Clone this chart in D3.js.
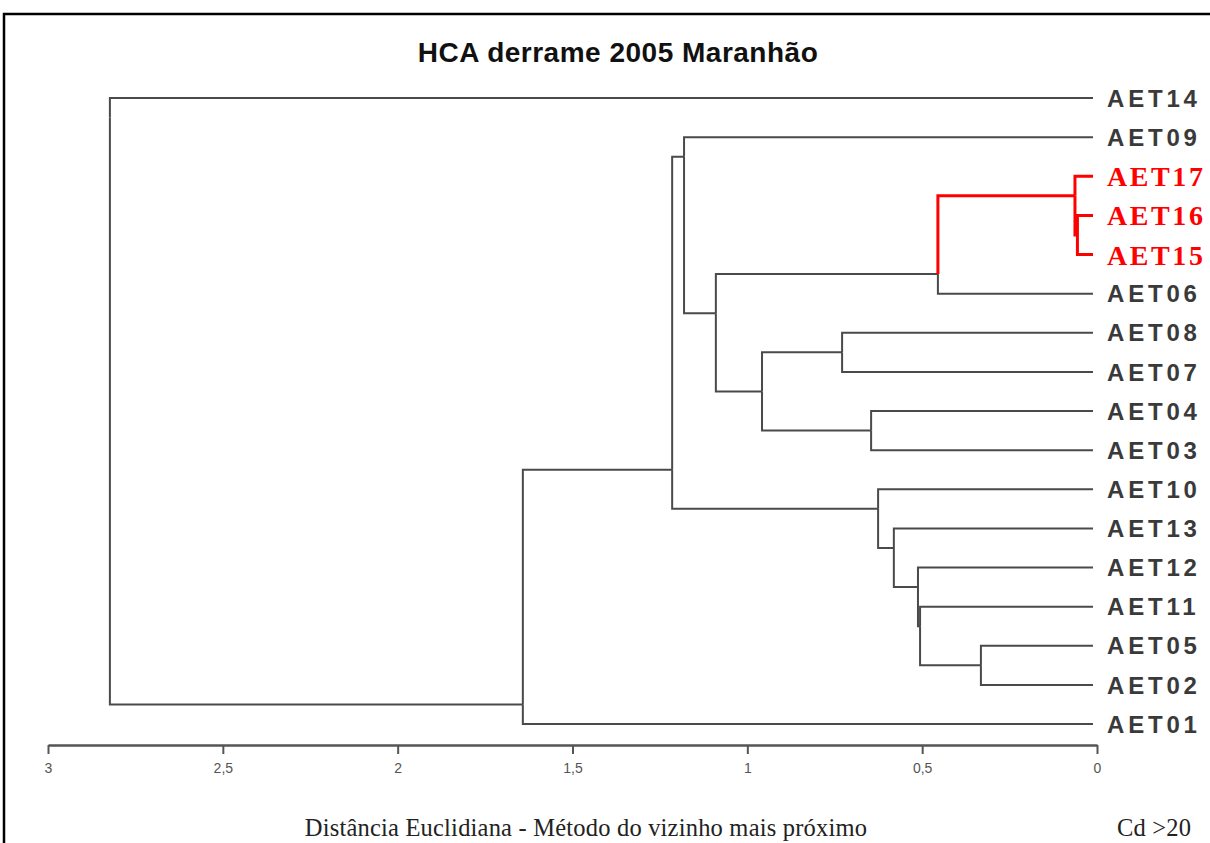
<!DOCTYPE html>
<html><head><meta charset="utf-8">
<script src="https://cdn.jsdelivr.net/npm/d3@7"></script>
<style>html,body{margin:0;background:#fff;overflow:hidden} svg{display:block}</style>
</head><body>
<svg id="c" width="1210" height="843"></svg>
<script>
const titleText = "HCA derrame 2005 Maranhão";
const leafOrder = ["AET14","AET09","AET17","AET16","AET15","AET06","AET08","AET07","AET04","AET03","AET10","AET13","AET12","AET11","AET05","AET02","AET01"];
const highlighted = ["AET17","AET16","AET15"];
const mergeIds    = ["m1","m2","m3","m4","m5","m6","m7","m8","m9","m10","m11","m12","m13","m14","m15","m16"];
const mergeLeft   = ["AET16","AET17","m2","AET08","AET04","m4","m3","AET09","AET05","AET11","AET12","AET13","AET10","m8","m14","AET14"];
const mergeRight  = ["AET15","m1","AET06","AET07","AET03","m5","m6","m7","AET02","m9","m10","m11","m12","m13","AET01","m15"];
const mergeHeight = [0.056,0.063,0.455,0.729,0.646,0.958,1.090,1.181,0.332,0.506,0.512,0.581,0.626,1.215,1.642,2.823];
const tickValues = [3,2.5,2,1.5,1,0.5,0];
const tickLabels = ["3","2,5","2","1,5","1","0,5","0"];
const xAxisTitle = "Distância Euclidiana - Método do vizinho mais próximo";
const cutNote = "Cd >20";

const svg = d3.select("#c");
const W = 1210, H = 843;
svg.append("rect").attr("width",W).attr("height",H).attr("fill","#fff");
// frame (right and bottom edges lie outside the picture)
svg.append("path").attr("d","M4,860V14H1230")
  .attr("fill","none").attr("stroke","#000").attr("stroke-width",2.5);

const x = d3.scaleLinear().domain([3,0]).range([48,1097]);
const y = d3.scalePoint().domain(leafOrder).range([98,724]);

// build tree
const nodes = new Map();
leafOrder.forEach(id => nodes.set(id,{id, leaf:true, height:0, leaves:[id]}));
mergeIds.forEach((id,i) => {
  const L = nodes.get(mergeLeft[i]), R = nodes.get(mergeRight[i]);
  const n = {id, leaf:false, height:mergeHeight[i], left:L, right:R, leaves:L.leaves.concat(R.leaves)};
  L.parent = n; R.parent = n;
  nodes.set(id,n);
});
nodes.forEach(n => {
  if (n.leaf) n.y = y(n.id);
  else n.y = (y(n.left.leaves[n.left.leaves.length-1]) + y(n.right.leaves[0]))/2;
});
const hl = new Set(highlighted);
const isRed = n => n.leaves.every(l => hl.has(l));

const links = [...nodes.values()].filter(n => n.parent);
const pathOf = n => {
  const x0 = n.leaf ? x(0) - 4 : x(n.height);
  return `M${x0},${n.y}H${x(n.parent.height)}V${n.parent.y}`;
};
svg.append("g").selectAll("path").data(links.filter(n=>!isRed(n))).join("path")
  .attr("d",pathOf).attr("fill","none").attr("stroke","#4a4a4a").attr("stroke-width",2);
svg.append("g").selectAll("path").data(links.filter(n=>isRed(n))).join("path")
  .attr("d",pathOf).attr("fill","none").attr("stroke","#ff0000").attr("stroke-width",3);

// labels
svg.append("g").selectAll("text").data(leafOrder).join("text")
  .attr("x",1107).attr("y",d=>y(d))
  .attr("dy","0.36em")
  .attr("font-family", d => hl.has(d) ? "Liberation Serif, serif" : "Liberation Sans, Arial, sans-serif")
  .attr("font-weight","bold")
  .attr("font-size", d => hl.has(d) ? 28 : 24)
  .attr("letter-spacing", d => hl.has(d) ? 2.6 : 3.8)
  .attr("fill", d => hl.has(d) ? "#ff0000" : "#3a3a3a")
  .text(d=>d);

// title
svg.append("text").attr("x",618).attr("y",62).attr("text-anchor","middle")
  .attr("font-family","Liberation Sans, Arial, sans-serif").attr("font-weight","bold")
  .attr("font-size",28).attr("letter-spacing",0.5).attr("fill","#111").text(titleText);

// axis
const axis = d3.axisBottom(x).tickValues(tickValues)
  .tickFormat((d,i)=>tickLabels[i]).tickSize(9).tickSizeOuter(0);
const ag = svg.append("g").attr("transform","translate(0,745)").call(axis);
ag.attr("font-size",14).attr("font-family","Liberation Sans, Arial, sans-serif");
ag.select(".domain").attr("stroke","#555").attr("stroke-width",2.5);
ag.selectAll(".tick line").attr("stroke","#555").attr("stroke-width",2);
ag.selectAll(".tick text").attr("fill","#555").attr("y",18).attr("dy","0.71em");

svg.append("text").attr("x",586).attr("y",836).attr("text-anchor","middle")
  .attr("font-family","Liberation Serif, serif").attr("font-size",24.5).attr("letter-spacing",0.2).attr("fill","#222")
  .text(xAxisTitle);
svg.append("text").attr("x",1117).attr("y",836)
  .attr("font-family","Liberation Serif, serif").attr("font-size",24.5).attr("letter-spacing",0.2).attr("fill","#222")
  .text(cutNote);
</script>
</body></html>
